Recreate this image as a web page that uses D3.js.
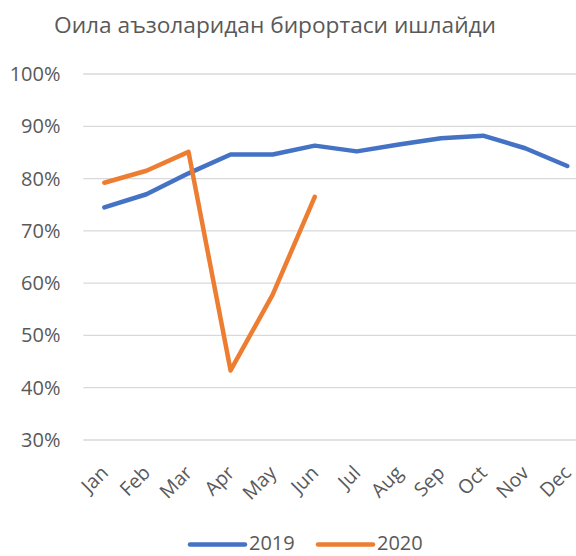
<!DOCTYPE html>
<html><head><meta charset="utf-8">
<script src="https://cdn.jsdelivr.net/npm/d3@7"></script>
<style>body{margin:0;background:#fff}svg{display:block}text{font-family:"Open Sans",sans-serif;fill:#595959}</style>
</head><body>
<svg id="c" width="576" height="556"></svg>
<script>
const title = "Оила аъзоларидан бирортаси ишлайди";
const months = ["Jan","Feb","Mar","Apr","May","Jun","Jul","Aug","Sep","Oct","Nov","Dec"];
const series2019 = [74.5,77.0,81.0,84.6,84.6,86.3,85.2,86.5,87.7,88.2,85.8,82.4];
const series2020 = [79.2,81.5,85.1,43.3,57.8,76.5];
const yTicks = [30,40,50,60,70,80,90,100];
const seriesNames = ["2019","2020"];
const colors = ["#4472C4","#ED7D31"];

const svg = d3.select("#c");
const x = d3.scaleBand().domain(months).range([83.3,588.3]);
const y = d3.scaleLinear().domain([30,100]).range([440,74]);

svg.append("text").attr("x",275).attr("y",33).attr("text-anchor","middle")
  .style("font-size","22.7px").text(title);

const gy = svg.append("g");
gy.selectAll("line").data(yTicks).join("line")
  .attr("x1",83.3).attr("x2",588.3).attr("y1",d=>y(d)).attr("y2",d=>y(d))
  .attr("stroke","#d9d9d9").attr("stroke-width",1.3);
gy.selectAll("text").data(yTicks).join("text")
  .attr("x",60.5).attr("y",d=>y(d)).attr("dy","0.35em").attr("text-anchor","end")
  .style("font-size","20px").text(d=>d+"%");

svg.append("g").selectAll("text").data(months).join("text")
  .attr("transform",d=>`translate(${x(d)+x.bandwidth()/2+5},${474}) rotate(-45)`)
  .attr("text-anchor","end").style("font-size","19.5px").text(d=>d);

const line = d3.line().x((d,i)=>x(months[i])+x.bandwidth()/2).y(d=>y(d));
[series2019,series2020].forEach((s,k)=>{
  svg.append("path").attr("d",line(s)).attr("fill","none").attr("stroke",colors[k])
    .attr("stroke-width",4.5).attr("stroke-linejoin","round").attr("stroke-linecap","round");
});

const lg = svg.append("g");
const lx = [190,318];
seriesNames.forEach((n,k)=>{
  lg.append("line").attr("x1",lx[k]).attr("x2",lx[k]+55).attr("y1",544.5).attr("y2",544.5)
    .attr("stroke",colors[k]).attr("stroke-width",4.5).attr("stroke-linecap","round");
  lg.append("text").attr("x",lx[k]+59).attr("y",550)
    .style("font-size","20px").text(n);
});
</script>
</body></html>
